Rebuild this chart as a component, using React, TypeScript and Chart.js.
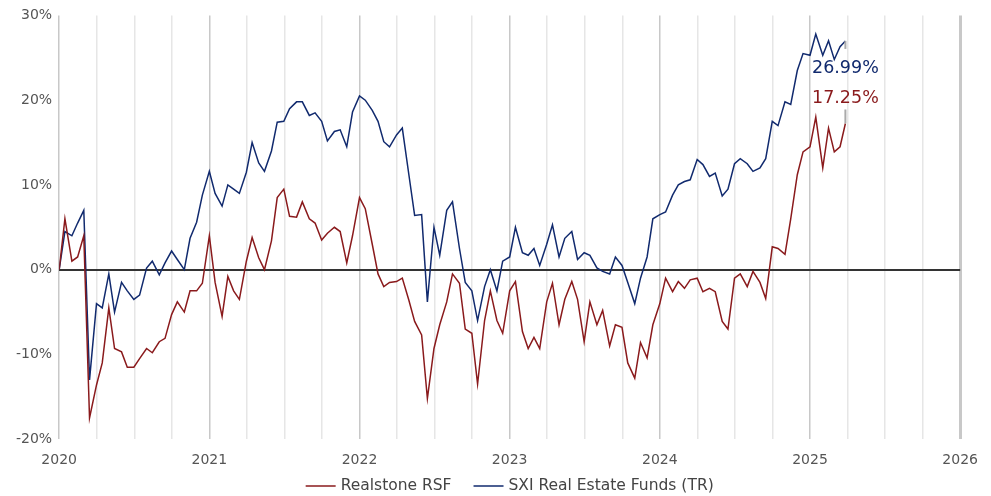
import React, { useEffect, useRef } from "react";
import { Chart, registerables } from "chart.js";

Chart.register(...registerables);

const pad2 = (n: number) => (n < 10 ? "0" + n : "" + n);

// Semi-monthly observation dates (1st and 15th), Jan 2020 – Mar 2025, plus last date
const dates: string[] = [];
for (let m = 0; m < 63; m++) {
  const y = 2020 + Math.floor(m / 12);
  const mo = (m % 12) + 1;
  dates.push(`${y}-${pad2(mo)}-01`, `${y}-${pad2(mo)}-15`);
}
dates.push("2025-03-28");

const seriesNames = ["Realstone RSF", "SXI Real Estate Funds (TR)"];
const seriesColors = ["#8a1a1c", "#112a6e"];

const realstone: number[] = [
  0, 6.0, 1.0, 1.5, 4.0, -17.5, -13.6, -11, -4.5, -9.3,
  -9.7, -11.5, -11.5, -10.5, -9.3, -9.8, -8.5, -8.1, -5.3, -3.8,
  -5, -2.5, -2.5, -1.6, 4.0, -1.5, -5.5, -0.8, -2.5, -3.5,
  1.0, 3.8, 1.4, 0, 3.4, 8.5, 9.5, 6.3, 6.2, 8.0,
  6.0, 5.5, 3.5, 4.3, 5.0, 4.5, 0.8, 4.0, 8.5, 7.2,
  3.0, -0.5, -2.0, -1.5, -1.4, -1.0, -3.6, -6.1, -7.7, -15.2,
  -9.3, -6.5, -3.8, -0.5, -1.6, -7.0, -7.5, -13.5, -6.0, -2.5,
  -6.0, -7.5, -2.5, -1.4, -7.3, -9.3, -8.0, -9.3, -3.8, -1.6,
  -6.5, -3.5, -1.4, -3.5, -8.5, -3.8, -6.5, -4.8, -9.0, -6.5,
  -6.8, -11.0, -12.8, -8.6, -10.4, -6.5, -4.0, -1.0, -2.6, -1.4,
  -2.2, -1.2, -1.0, -2.6, -2.2, -2.6, -6.1, -7.0, -1.0, -0.5,
  -2.0, -0.2, -1.5, -3.4, 2.7, 2.5, 1.8, 6.0, 11.2, 13.9,
  14.5, 18.0, 12.0, 16.7, 13.9, 14.5, 17.25,
];

const sxi: number[] = [
  0, 4.5, 4.0, 5.5, 7.0, -13, -4, -4.5, -0.5, -5,
  -1.5, -2.5, -3.5, -3, 0.2, 1.0, -0.6, 0.8, 2.2, 1.2,
  0, 3.7, 5.6, 8.8, 11.6, 9.0, 7.5, 10.0, 9.5, 9.0,
  11.5, 15.0, 12.6, 11.6, 14.0, 17.4, 17.5, 19.0, 19.8, 19.8,
  18.2, 18.5, 17.5, 15.2, 16.3, 16.5, 14.5, 18.6, 20.5, 20.0,
  18.8, 17.5, 15.1, 14.5, 15.9, 16.7, 11.2, 6.4, 6.5, -3.8,
  5.0, 1.7, 7.0, 8.0, 2.5, -1.5, -2.5, -6.0, -2, 0,
  -2.5, 1.0, 1.5, 5.0, 2.0, 1.7, 2.5, 0.5, 3.0, 5.3,
  1.5, 3.7, 4.5, 1.2, 2.0, 1.7, 0.2, -0.2, -0.5, 1.5,
  0.5, -1.5, -4.0, -1.0, 1.5, 6.0, 6.5, 6.8, 8.8, 10.0,
  10.4, 10.6, 13.0, 12.4, 11.0, 11.4, 8.7, 9.5, 12.5, 13.1,
  12.5, 11.6, 12.0, 13.1, 17.5, 17.0, 19.8, 19.5, 23.5, 25.5,
  25.3, 27.8, 25.3, 27.0, 24.8, 26.3, 26.99,
];

const endLabels = ["17.25%", "26.99%"];
const yTicks = [-20, -10, 0, 10, 20, 30];
const xYears = [2020, 2021, 2022, 2023, 2024, 2025, 2026];

const toYearFrac = (d: string) => {
  const [y, m, day] = d.split("-").map(Number);
  const start = Date.UTC(y, 0, 1);
  const end = Date.UTC(y + 1, 0, 1);
  return y + (Date.UTC(y, m - 1, day) - start) / (end - start);
};

const FONT = "'DejaVu Sans', sans-serif";

const endLabelPlugin = {
  id: "endLabels",
  afterDatasetsDraw(chart: any) {
    const ctx = chart.ctx;
    const offsets = [-25, 28];
    const connectors = [-14, 8];
    chart.data.datasets.forEach((ds: any, i: number) => {
      const meta = chart.getDatasetMeta(i);
      const pt = meta.data[meta.data.length - 1];
      if (!pt) return;
      ctx.save();
      ctx.strokeStyle = "#aaaaaa";
      ctx.lineWidth = 2;
      ctx.beginPath();
      ctx.moveTo(pt.x, pt.y);
      ctx.lineTo(pt.x, pt.y + connectors[i]);
      ctx.stroke();
      ctx.font = `17.5px ${FONT}`;
      ctx.fillStyle = seriesColors[i];
      ctx.textAlign = "center";
      ctx.textBaseline = "middle";
      ctx.fillText(endLabels[i], pt.x, pt.y + offsets[i]);
      ctx.restore();
    });
  },
};

// Legend drawn at the bottom, centred under the plot area
const legendPlugin = {
  id: "bottomLegend",
  afterDraw(chart: any) {
    const ctx = chart.ctx;
    const sample = 30, gapText = 5, gapItem = 22;
    ctx.save();
    ctx.font = `15.5px ${FONT}`;
    const widths = seriesNames.map((n) => ctx.measureText(n).width);
    const total = widths.reduce((a, w) => a + sample + gapText + w, 0) + gapItem * (seriesNames.length - 1);
    const center = (chart.chartArea.left + chart.chartArea.right) / 2;
    let x = center - total / 2;
    const y = chart.height - 10;
    seriesNames.forEach((n, i) => {
      ctx.strokeStyle = seriesColors[i];
      ctx.lineWidth = 1.5;
      ctx.beginPath();
      ctx.moveTo(x, y);
      ctx.lineTo(x + sample, y);
      ctx.stroke();
      ctx.fillStyle = "#444";
      ctx.textAlign = "left";
      ctx.textBaseline = "middle";
      ctx.fillText(n, x + sample + gapText, y);
      x += sample + gapText + widths[i] + gapItem;
    });
    ctx.restore();
  },
};

export default function App() {
  const ref = useRef<HTMLCanvasElement | null>(null);
  useEffect(() => {
    document.body.style.margin = "0";
    if (!ref.current) return;
    const xs = dates.map(toYearFrac);
    const chart = new Chart(ref.current, {
      type: "line",
      data: {
        datasets: [realstone, sxi].map((vals, i) => ({
          label: seriesNames[i],
          data: vals.map((v, k) => ({ x: xs[k], y: v })),
          borderColor: seriesColors[i],
          backgroundColor: seriesColors[i],
          borderWidth: 1.5,
          pointRadius: 0,
          tension: 0,
        })),
      },
      options: {
        animation: false,
        responsive: true,
        maintainAspectRatio: false,
        layout: { padding: { top: 5, right: 27, left: 9, bottom: 14 } },
        scales: {
          x: {
            type: "linear",
            min: 2020,
            max: 2026,
            afterBuildTicks: (axis: any) => {
              const t: any[] = [];
              for (let v = 2020; v <= 2026.001; v += 0.25) t.push({ value: Math.round(v * 100) / 100 });
              axis.ticks = t;
            },
            ticks: {
              autoSkip: false,
              maxRotation: 0,
              padding: 13,
              color: "#555",
              font: { family: FONT, size: 14 },
              callback: (v: any) => (xYears.includes(Number(v)) ? String(v) : ""),
            },
            grid: {
              drawTicks: false,
              color: (c: any) => {
                const v = c.tick ? c.tick.value : 0;
                return Number.isInteger(v) ? "#c8c8c8" : "#e6e6e6";
              },
              lineWidth: (c: any) => {
                const v = c.tick ? c.tick.value : 0;
                return v === 2026 ? 3 : 1.5;
              },
            },
            border: { display: false },
          },
          y: {
            min: -20,
            max: 30,
            z: 1,
            afterBuildTicks: (axis: any) => {
              axis.ticks = yTicks.map((v) => ({ value: v }));
            },
            ticks: {
              padding: 7,
              color: "#555",
              font: { family: FONT, size: 14 },
              callback: (v: any) => `${v}%`,
            },
            grid: {
              drawTicks: false,
              color: (c: any) => (c.tick && c.tick.value === 0 ? "#333333" : "rgba(0,0,0,0)"),
              lineWidth: 2,
            },
            border: { display: false },
          },
        },
        plugins: {
          legend: { display: false },
          tooltip: { enabled: false },
        },
      },
      plugins: [endLabelPlugin, legendPlugin],
    });
    return () => chart.destroy();
  }, []);
  return (
    <div style={{ width: 991, height: 496, position: "relative", background: "#fff" }}>
      <canvas ref={ref} />
    </div>
  );
}
